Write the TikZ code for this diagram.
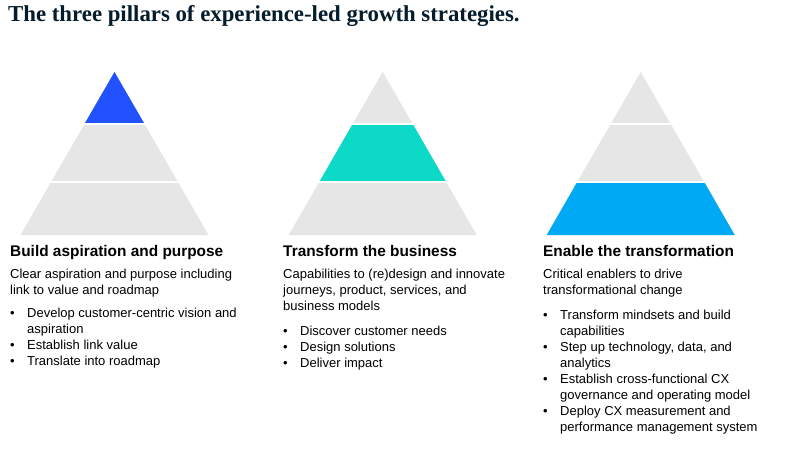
\documentclass[tikz,border=0pt]{standalone}
\usepackage{fontspec}
\setmainfont{Liberation Sans}
\newfontfamily\titlefont{Liberation Serif}
\definecolor{tier}{HTML}{E6E6E6}
\definecolor{cblue}{HTML}{2251FF}
\definecolor{cteal}{HTML}{0DD9C9}
\definecolor{ccyan}{HTML}{00A9F4}
\definecolor{navy}{HTML}{051C2C}
\tikzset{
  headtext/.style={anchor=base west, inner sep=0pt, font=\fontsize{15.4}{18}\selectfont\bfseries, text=black},
  bodytext/.style={anchor=north west, inner sep=0pt, align=left, font=\fontsize{13}{16}\selectfont, text=black},
  cut/.style={white, line width=1.6pt},
}
\newcommand{\bl}{\makebox[17pt][l]{\textbullet}}
\newcommand{\ind}{\hspace*{17pt}}
% pyramid: #1 center x, #2 highlighted tier (1 top,2 mid,3 bottom), #3 colour
\newcommand{\pyr}[3]{%
  \fill[tier] (#1,72) -- (#1+94,235) -- (#1-94,235) -- cycle;
  \ifcase#2\or
    \fill[#3] (#1,72) -- (#1+30.06,124) -- (#1-30.06,124) -- cycle;
  \or
    \fill[#3] (#1-30.06,124) -- (#1+30.06,124) -- (#1+63.5,182) -- (#1-63.5,182) -- cycle;
  \or
    \fill[#3] (#1-63.5,182) -- (#1+63.5,182) -- (#1+94,235) -- (#1-94,235) -- cycle;
  \fi
  \draw[cut] (#1-40,124) -- (#1+40,124);
  \draw[cut] (#1-70,182) -- (#1+70,182);
}
\begin{document}
\begin{tikzpicture}[x=1pt,y=-1pt]
\useasboundingbox[fill=white] (0,0) rectangle (786,453);
\node[anchor=base west, inner sep=0pt, text=navy, font=\fontsize{22.8}{26}\selectfont\titlefont\bfseries] (title) at (8,21) {The three pillars of experience-led growth strategies.};

\pyr{114.5}{1}{cblue}
\pyr{382.7}{2}{cteal}
\pyr{640.7}{3}{ccyan}

% column 1
\node[headtext] (h1) at (10,256) {Build aspiration and purpose};
\node[bodytext] (d1) at (10,278-11.2) {\strut Clear aspiration and purpose including\\link to value and roadmap};
\node[bodytext] (l1) at (10,317-11.2) {\strut\bl Develop customer-centric vision and\\\ind aspiration\\\bl Establish link value\\\bl Translate into roadmap};

% column 2
\node[headtext] (h2) at (283,256) {Transform the business};
\node[bodytext] (d2) at (283,278-11.2) {\strut Capabilities to (re)design and innovate\\journeys, product, services, and\\business models};
\node[bodytext] (l2) at (283,335-11.2) {\strut\bl Discover customer needs\\\bl Design solutions\\\bl Deliver impact};

% column 3
\node[headtext] (h3) at (543,256) {Enable the transformation};
\node[bodytext] (d3) at (543,278-11.2) {\strut Critical enablers to drive\\transformational change};
\node[bodytext] (l3) at (543,319-11.2) {\strut\bl Transform mindsets and build\\\ind capabilities\\\bl Step up technology, data, and\\\ind analytics\\\bl Establish cross-functional CX\\\ind governance and operating model\\\bl Deploy CX measurement and\\\ind performance management system};
\end{tikzpicture}
\end{document}
